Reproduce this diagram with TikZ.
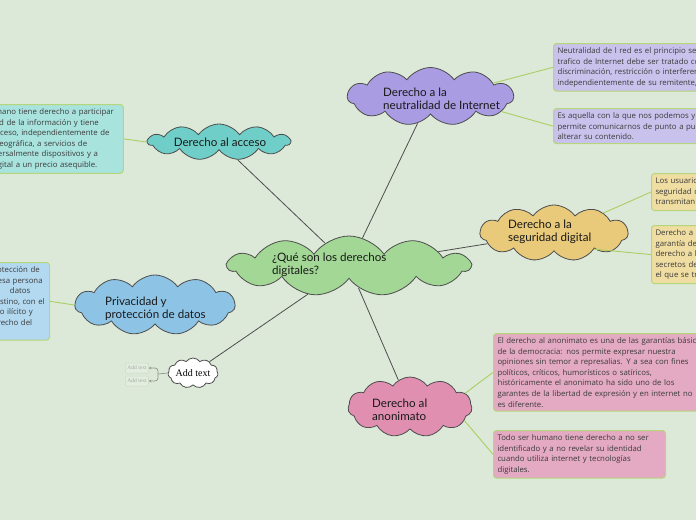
\documentclass[tikz,border=0pt]{standalone}
\usepackage{fontspec}
\setmainfont{Lato}
\newfontfamily\boxfam{Open Sans}
\newfontfamily\serifam{Liberation Serif}
\usetikzlibrary{shapes.symbols,arrows.meta}
\pgfdeclarelayer{bg}
\pgfdeclarelayer{links}
\pgfsetlayers{bg,links,main}
\definecolor{bgc}{HTML}{DDE9D8}
\definecolor{cloudline}{HTML}{4D4D4D}
\definecolor{cgreen}{HTML}{A3D795}
\definecolor{cpurple}{HTML}{A99CE3}
\definecolor{cteal}{HTML}{6FCFC8}
\definecolor{cgold}{HTML}{E9C97A}
\definecolor{cblue}{HTML}{8DC4E6}
\definecolor{cpink}{HTML}{E08FB0}
\definecolor{bpurple}{HTML}{C9C2EC}
\definecolor{bteal}{HTML}{A9E3DE}
\definecolor{bgold}{HTML}{F0DDA2}
\definecolor{bblue}{HTML}{B2D9F0}
\definecolor{bpink}{HTML}{E4AAC3}
\definecolor{boxline}{HTML}{B5D67A}
\definecolor{grlinkc}{HTML}{A9CF62}
\definecolor{boxtext}{HTML}{3A3A3A}
\definecolor{minifill}{HTML}{E2EDDF}
\definecolor{miniline}{HTML}{CCDAC7}
\definecolor{minitext}{HTML}{A0AAA0}
\definecolor{brkc}{HTML}{8C998A}
\tikzset{
  cloudbase/.style={cloud, cloud puffs=11, cloud puff arc=110, cloud ignores aspect,
    draw=cloudline, line width=0.8pt, inner sep=0pt},
  ctext/.style={font=\fontsize{11.6}{13}\selectfont, align=left, inner sep=0pt, anchor=west, text=black!90},
  tbox/.style={draw=boxline, line width=1pt, rounded corners=3pt, inner xsep=4pt, inner ysep=4pt,
    font=\boxfam\fontsize{7.8}{10.6}\selectfont, align=left, text=boxtext},
  glink/.style={draw=cloudline, line width=0.8pt},
  grlink/.style={draw=grlinkc, line width=0.9pt},
  minib/.style={fill=minifill, draw=miniline, line width=0.5pt, rounded corners=1pt,
    font=\serifam\fontsize{5.5}{6}\selectfont, text=minitext, minimum width=23pt, minimum height=10pt, inner sep=1pt},
  brk/.style={draw=brkc, line width=0.7pt, rounded corners=3pt}
}
\begin{document}
\begin{tikzpicture}[x=1pt,y=-1pt]
\useasboundingbox (0,0) rectangle (696,520);
\begin{pgfonlayer}{bg}
\fill[bgc] (0,0) rectangle (696,520);
\end{pgfonlayer}
\clip (0,0) rectangle (696,520);

% clouds
\node[cloudbase, fill=cgreen, minimum width=242pt, minimum height=60pt] (cC) at (349,266) {};
\node[ctext] (cCt) at (272,264.5) {¿Qué son los derechos\\digitales?};

\node[cloudbase, fill=cpurple, minimum width=166pt, minimum height=58pt] (cN) at (430.5,96.5) {};
\node[ctext] (cNt) at (383,98.5) {Derecho a la\\neutralidad de Internet};

\node[cloudbase, fill=cteal, minimum width=142pt, minimum height=36pt] (cA) at (219,142) {};
\node[ctext, anchor=center] (cAt) at (220,142) {Derecho al acceso};

\node[cloudbase, fill=cgold, minimum width=148pt, minimum height=56pt] (cS) at (554,233) {};
\node[ctext] (cSt) at (508,232) {Derecho a la\\seguridad digital};

\node[cloudbase, fill=cblue, minimum width=160pt, minimum height=60pt] (cP) at (155,305) {};
\node[ctext] (cPt) at (105,309) {Privacidad y\\protección de datos};

\node[cloudbase, fill=cpink, minimum width=124pt, minimum height=60pt] (cAn) at (410,407) {};
\node[ctext] (cAnt) at (372,410) {Derecho al\\anonimato};

\node[cloudbase, fill=white, minimum width=50pt, minimum height=30pt,
  font=\serifam\fontsize{10}{11}\selectfont] (cX) at (193,373) {Add text};

% text boxes
\node[tbox, fill=bpurple, anchor=north west, text width=250pt] (b1) at (553,43)
 {Neutralidad de l red es el principio según el cual el\\
  trafico de Internet debe ser tratado con igualdad, sin\\
  discriminación, restricción o interferencia,\\
  independientemente de su remitente,};
\node[tbox, fill=bpurple, anchor=north west, text width=250pt] (b2) at (553,108)
 {Es aquella con la que nos podemos y nos\\
  permite comunicarnos de punto a punto sin\\
  alterar su contenido.};

\node[tbox, fill=bteal, anchor=north west, text width=168.4pt] (bA) at (-53.6,104)
 {\mbox{Todo ser humano tiene derecho a participar}\\
  \mbox{en la sociedad de la información y tiene}\\
  \mbox{derecho al acceso, independientemente de}\\
  \mbox{su posición geográfica, a servicios de}\\
  \mbox{internet universalmente dispositivos y a}\\
  \mbox{tecnología digital a un precio asequible.}};

\node[tbox, fill=bgold, anchor=north west, text width=200pt] (bS1) at (651,173)
 {Los usuarios tienen derecho a la\\
  seguridad de la información que\\
  transmitan por internet.};
\node[tbox, fill=bgold, anchor=north west, text width=200pt] (bS2) at (651,225)
 {Derecho a la seguridad digital es la\\
  garantía de la protección del\\
  derecho a la privacidad y de los\\
  secretos de las comunicaciones en\\
  el que se transmiten los datos.};

\node[tbox, fill=bblue, anchor=north west, inner xsep=2.5pt, text width=167.4pt] (bP) at (-123.4,262)
 {\mbox{El derecho a la intimidad y la protección de}\\
  \mbox{datos personales garantiza que esa persona}\\
  \mbox{pueda elegir sobre el uso de sus\hspace{10pt}datos}\\
  \mbox{personales y saber cuál es su destino, con el}\\
  \mbox{fin de evitar cualquier tipo de uso ilícito y}\\
  \mbox{lesivo que pueda violentar el derecho del}\\
  \mbox{}};

\node[tbox, fill=bpink, anchor=north west, text width=250pt] (bAn1) at (493,333)
 {El derecho al anonimato es una de las garantías básicas\\
  de la democracia: nos permite expresar nuestra\\
  opiniones sin temor a represalias. Y a sea con fines\\
  políticos, críticos, humorísticos o satíricos,\\
  históricamente el anonimato ha sido uno de los\\
  garantes de la libertad de expresión y en internet no\\
  es diferente.};
\node[tbox, fill=bpink, anchor=north west, text width=164pt] (bAn2) at (493,430)
 {Todo ser humano tiene derecho a no ser\\
  identificado y a no revelar su identidad\\
  cuando utiliza internet y tecnologías\\
  digitales.};

% mini add-text boxes
\node[minib] (m1) at (137,368) {Add text};
\node[minib] (m2) at (137,381) {Add text};
\coordinate (bj) at (158,374);

% connectors
\begin{pgfonlayer}{links}
\draw[glink] (cC) -- (cN);
\draw[glink] (cC) -- (cA);
\draw[glink] (cC) -- (cS);
\draw[glink] (cC) -- (cAn);
\draw[glink] (cC) -- (cX);
\end{pgfonlayer}
\draw[grlink] (cN.12) -- (b1.west);
\draw[grlink] (cN.-12) -- (b2.west);
\draw[grlink] (cA.west) -- (bA.east);
\draw[grlink] (cS.22) -- (bS1.west);
\draw[grlink] (cS.-22) -- (bS2.west);
\draw[grlink] (cP.west) -- (bP.east);
\draw[grlink] (cAn.14) -- (bAn1.west);
\draw[grlink] (cAn.-14) -- (bAn2.west);
\draw[brk] (cX.west) -- (bj);
\draw[brk, -{Stealth[length=2.5pt,width=2.5pt]}] (bj) |- (m1.east);
\draw[brk, -{Stealth[length=2.5pt,width=2.5pt]}] (bj) |- (m2.east);
\end{tikzpicture}
\end{document}
